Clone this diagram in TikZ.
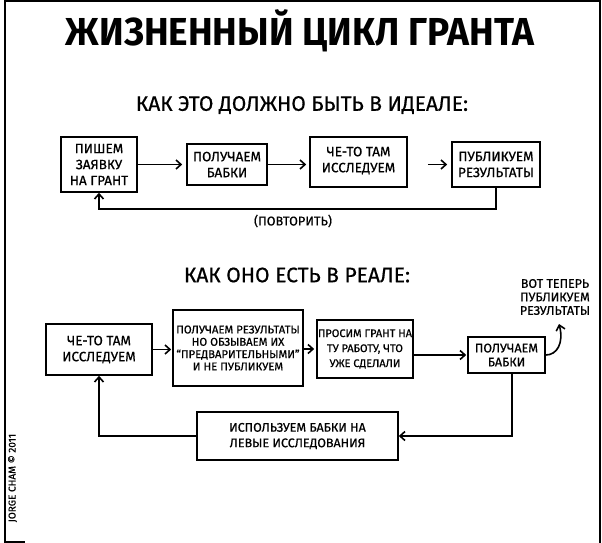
\documentclass[tikz,border=0pt]{standalone}
\usepackage{fontspec}
\setmainfont{Fira Sans}[UprightFeatures={FakeBold=0.6}]
\usetikzlibrary{arrows.meta}
\tikzset{
  box/.style={draw, line width=1.6pt, align=center, inner sep=1pt},
  arr/.style={line width=1.6pt, -{Straight Barb[length=5pt,width=9pt,line width=1.6pt]}},
  frame/.style={line width=1.5pt},
  big/.style={font=\fontsize{13.5}{16}\selectfont},
  small/.style={font=\fontsize{11.3}{12.3}\selectfont},
}
\begin{document}
\begin{tikzpicture}[x=1pt,y=-1pt]
\useasboundingbox (0,0) rectangle (602,543);
\fill[white] (0,0) rectangle (602,543);
% frame
\draw[frame] (5,543) -- (5,1) -- (600,1) -- (600,543);
\draw[frame] (5,542) -- (25,542);
% titles
\node (title) at (300,31) {\scalebox{0.95}[1]{\fontsize{39}{39}\selectfont\bfseries ЖИЗНЕННЫЙ ЦИКЛ ГРАНТА}};
\node (sub1) at (302,105) {\fontsize{21}{21}\selectfont КАК ЭТО ДОЛЖНО БЫТЬ В ИДЕАЛЕ:};
% ideal row
\node[box, big, minimum width=76, minimum height=55] (t1) at (99,164.5) {ПИШЕМ\\ЗАЯВКУ\\НА ГРАНТ};
\node[box, big, minimum width=80, minimum height=41] (t2) at (227,164.5) {ПОЛУЧАЕМ\\БАБКИ};
\node[box, big, minimum width=97, minimum height=50, text depth=5pt] (t3) at (358.5,162) {ЧЕ-ТО ТАМ\\ИССЛЕДУЕМ};
\node[box, big, minimum width=88, minimum height=45] (t4) at (496,164.5) {ПУБЛИКУЕМ\\РЕЗУЛЬТАТЫ};
\draw[arr, shorten >=4pt] (t1.east) -- (t1.east -| t2.west);
\draw[arr, shorten >=3pt] (t2.east) -- (t2.east -| t3.west);
\draw[arr, shorten <=20pt, shorten >=4pt] (t3.east |- t4.east) -- (t4.west);
\draw[arr] (t4.south) -- ++(0,21) -| (t1.south);
\node[font=\fontsize{12.7}{14}\selectfont] (rep) at (293,221) {(ПОВТОРИТЬ)};
% real row
\node (sub2) at (297,275) {\fontsize{21}{21}\selectfont КАК ОНО ЕСТЬ В РЕАЛЕ:};
\node[box, big, minimum width=106, minimum height=51] (bA) at (99,349.5) {ЧЕ-ТО ТАМ\\ИССЛЕДУЕМ};
\node[box, small, inner sep=0pt, minimum width=130, minimum height=76] (bB) at (238,348) {ПОЛУЧАЕМ РЕЗУЛЬТАТЫ\\НО ОБЗЫВАЕМ ИХ\\“ПРЕДВАРИТЕЛЬНЫМИ”\\И НЕ ПУБЛИКУЕМ};
\node[box, font=\fontsize{11}{15}\selectfont, minimum width=96, minimum height=58] (bC) at (365,349) {ПРОСИМ ГРАНТ НА\\ТУ РАБОТУ, ЧТО\\УЖЕ СДЕЛАЛИ};
\node[box, font=\fontsize{12.5}{14}\selectfont, inner sep=1pt, minimum width=77, minimum height=36] (bD) at (506.5,355) {ПОЛУЧАЕМ\\БАБКИ};
\node[align=center, font=\fontsize{12.5}{13.5}\selectfont] (vt) at (555,297) {ВОТ ТЕПЕРЬ\\ПУБЛИКУЕМ\\РЕЗУЛЬТАТЫ};
\node[box, font=\fontsize{12.5}{15.5}\selectfont, minimum width=201, minimum height=48] (bE) at (297.5,436) {ИСПОЛЬЗУЕМ БАБКИ НА\\ЛЕВЫЕ ИССЛЕДОВАНИЯ};
\coordinate (vtin) at (559,324);
\draw[arr, shorten >=1pt] (bA.east) -- (bA.east -| bB.west);
\draw[arr, shorten >=2pt] (bB.east |- bC.west) -- (bC.west);
\draw[arr, shorten >=1pt] (bC.east |- bD.west) -- (bD.west);
\draw[arr] (bD.east) .. controls (557,355) and (564,343) .. (vtin);
\draw[arr] ([xshift=5.5pt]bD.south) |- (bE.east);
\draw[arr] (bE.west) -| (bA.south);
% credit
\node[rotate=90, font=\fontsize{10}{10}\selectfont] (credit) at (12.5,478) {JORGE CHAM © 2011};
\end{tikzpicture}
\end{document}
